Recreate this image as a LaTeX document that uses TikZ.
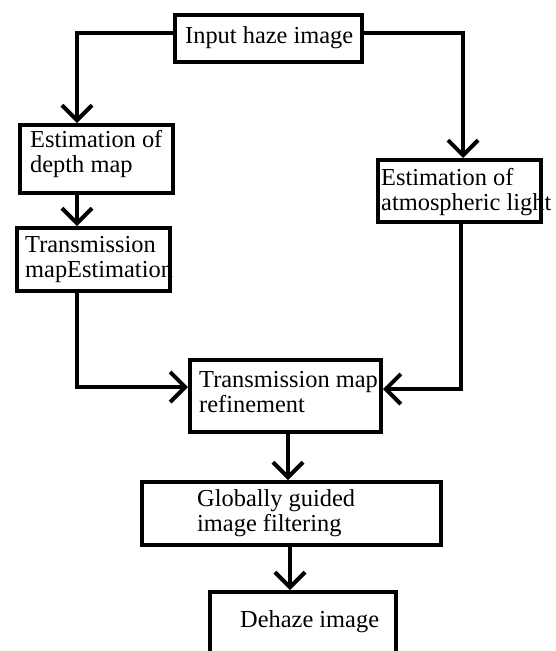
\documentclass[tikz,border=0pt]{standalone}
\usepackage{fontspec}
\setmainfont{Liberation Serif}
\usetikzlibrary{arrows.meta}
\begin{document}
\begin{tikzpicture}[x=1pt,y=-1pt,
  box/.style={draw=black, line width=4pt, inner sep=0pt, rectangle},
  lbl/.style={anchor=base west, inner sep=0pt, align=left, font=\fontsize{24.4}{24.5}\selectfont, text=black},
  conn/.style={line width=4pt, -{Straight Barb[length=15pt,width=30pt]}}]
\useasboundingbox (0,0) rectangle (555,651);
\clip (0,0) rectangle (555,651);
% texts (anchored at the baseline of the last line)
\node[lbl] (t1) at (185,43) {Input haze image};
\node[lbl] (t2) at (30,172) {Estimation of\\depth map};
\node[lbl] (t3) at (381,210) {Estimation of\\atmospheric light};
\node[lbl] (t4) at (25,277) {Transmission\\mapEstimation};
\node[lbl] (t5) at (199,412) {Transmission map\\refinement};
\node[lbl] (t6) at (197,531) {Globally guided\\image filtering};
\node[lbl] (t7) at (240,627) {Dehaze image};
% boxes
\node[box, minimum width=187pt, minimum height=47pt] (b1) at (268.5,38.5) {};
\node[box, minimum width=153pt, minimum height=68pt] (b2) at (96.5,159) {};
\node[box, minimum width=163pt, minimum height=62pt] (b3) at (459.5,191) {};
\node[box, minimum width=153pt, minimum height=63pt] (b4) at (93.5,259.5) {};
\node[box, minimum width=191pt, minimum height=72pt] (b5) at (285.5,396) {};
\node[box, minimum width=299pt, minimum height=63pt] (b6) at (291.5,513.5) {};
\node[box, minimum width=186pt, minimum height=78pt] (b7) at (303,631) {};
% connectors
\draw[conn] ([yshift=5.5pt]b1.west) -| ([xshift=-19.5pt]b2.north);
\draw[conn] ([yshift=5.5pt]b1.east) -| ([xshift=3.5pt]b3.north);
\draw[conn] ([xshift=-19.5pt]b2.south) -- ([xshift=-19.5pt]b2.south |- b4.north);
\draw[conn] ([xshift=-16.5pt]b4.south) |- ([yshift=9pt]b5.west);
\draw[conn] ([xshift=1.5pt]b3.south) |- ([yshift=7pt]b5.east);
\draw[conn] ([xshift=2.5pt]b5.south) -- ([xshift=2.5pt]b5.south |- b6.north);
\draw[conn] ([xshift=-1.5pt]b6.south) -- ([xshift=-1.5pt]b6.south |- b7.north);
\end{tikzpicture}
\end{document}
